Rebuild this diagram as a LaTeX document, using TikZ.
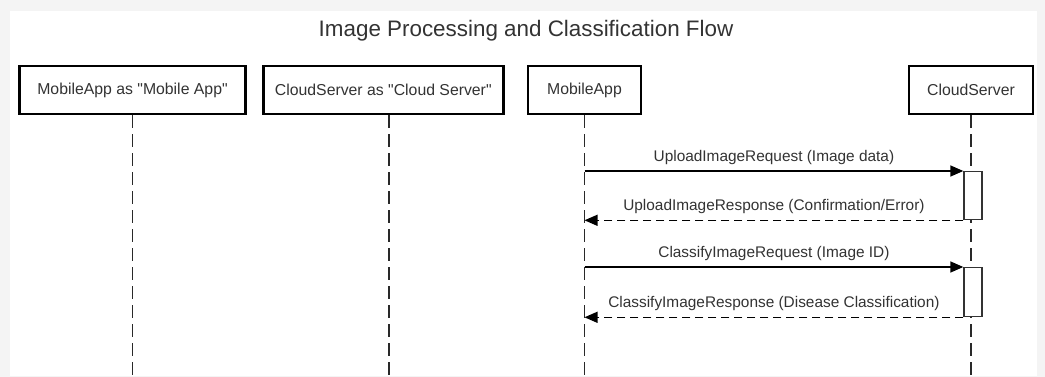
\documentclass[tikz,border=0pt]{standalone}
\usepackage{fontspec}
\setmainfont{Liberation Sans}[Ligatures=TeXOff]
\usetikzlibrary{arrows.meta,positioning}
\definecolor{ink}{HTML}{333333}
\definecolor{frame}{HTML}{F4F4F4}

\begin{document}
\begin{tikzpicture}[x=1pt,y=-1pt,
	part/.style={draw=black,line width=2.8pt,minimum height=48pt,inner sep=0pt,
	  text=ink,font=\fontsize{15.8}{18}\selectfont},
	life/.style={draw=ink!80!black,line width=1.9pt,dash pattern=on 13pt off 6pt},
	act/.style={draw=ink,line width=1.3pt,fill=white,minimum width=18pt,inner sep=0pt},
	msg/.style={draw=black,line width=1.3pt,-{Triangle[length=13pt,width=11pt]}},
	ret/.style={msg,dash pattern=on 8pt off 5pt},
	lbl/.style={text=ink,font=\fontsize{15.4}{18}\selectfont,inner sep=0pt}]
	% frame
	\fill[frame] (0,0) rectangle (1045,377);
	\fill[white] (10,11) rectangle (1037,376);
	\useasboundingbox (0,0) rectangle (1045,377);
	\node[text=ink,font=\fontsize{22.4}{26}\selectfont] (title) at (526,31) {Image Processing and Classification Flow};
	%
	\node[part,minimum width=226pt] (app0) at (132.5,90) {MobileApp as "Mobile App"};
	\node[part,minimum width=240pt,right=15pt of app0] (srv0) {CloudServer as "Cloud Server"};
	\node[part,minimum width=113pt] (app) at (584.5,90) {MobileApp};
	\node[part,minimum width=124pt] (srv) at (971,90) {CloudServer};
	%
	\coordinate (app0end) at (app0.south |- 0,376);
	\coordinate (srv0top) at ([xshift=6pt]srv0.south);
	\coordinate (srv0end) at (srv0top |- 0,376);
	\coordinate (append) at (app.south |- 0,376);
	\coordinate (srvend) at (srv.south |- 0,376);
	\draw[life] (app0) -- (app0end);
	\draw[life] (srv0top) -- (srv0end);
	\draw[life] (app) -- (append);
	\draw[life] (srv) -- (srvend);
	%
	\node[act,minimum height=48pt,anchor=north] (act1) at (973,171) {};
	\node[act,minimum height=49pt,anchor=north] (act2) at (973,267) {};
	\coordinate (req1) at (app.south |- act1.north);
	\coordinate (res1) at (app.south |- act1.south);
	\coordinate (req2) at (app.south |- act2.north);
	\coordinate (res2) at (app.south |- act2.south);
	%
	\draw[msg] (req1) -- node[lbl,above=6pt] (l1) {UploadImageRequest (Image data)} (act1.north west);
	\draw[ret] (act1.south west) -- node[lbl,above=6pt] (l2) {UploadImageResponse (Confirmation/Error)} (res1);
	\draw[msg] (req2) -- node[lbl,above=6pt] (l3) {ClassifyImageRequest (Image ID)} (act2.north west);
	\draw[ret] (act2.south west) -- node[lbl,above=6pt] (l4) {ClassifyImageResponse (Disease Classification)} (res2);
\end{tikzpicture}
\end{document}
